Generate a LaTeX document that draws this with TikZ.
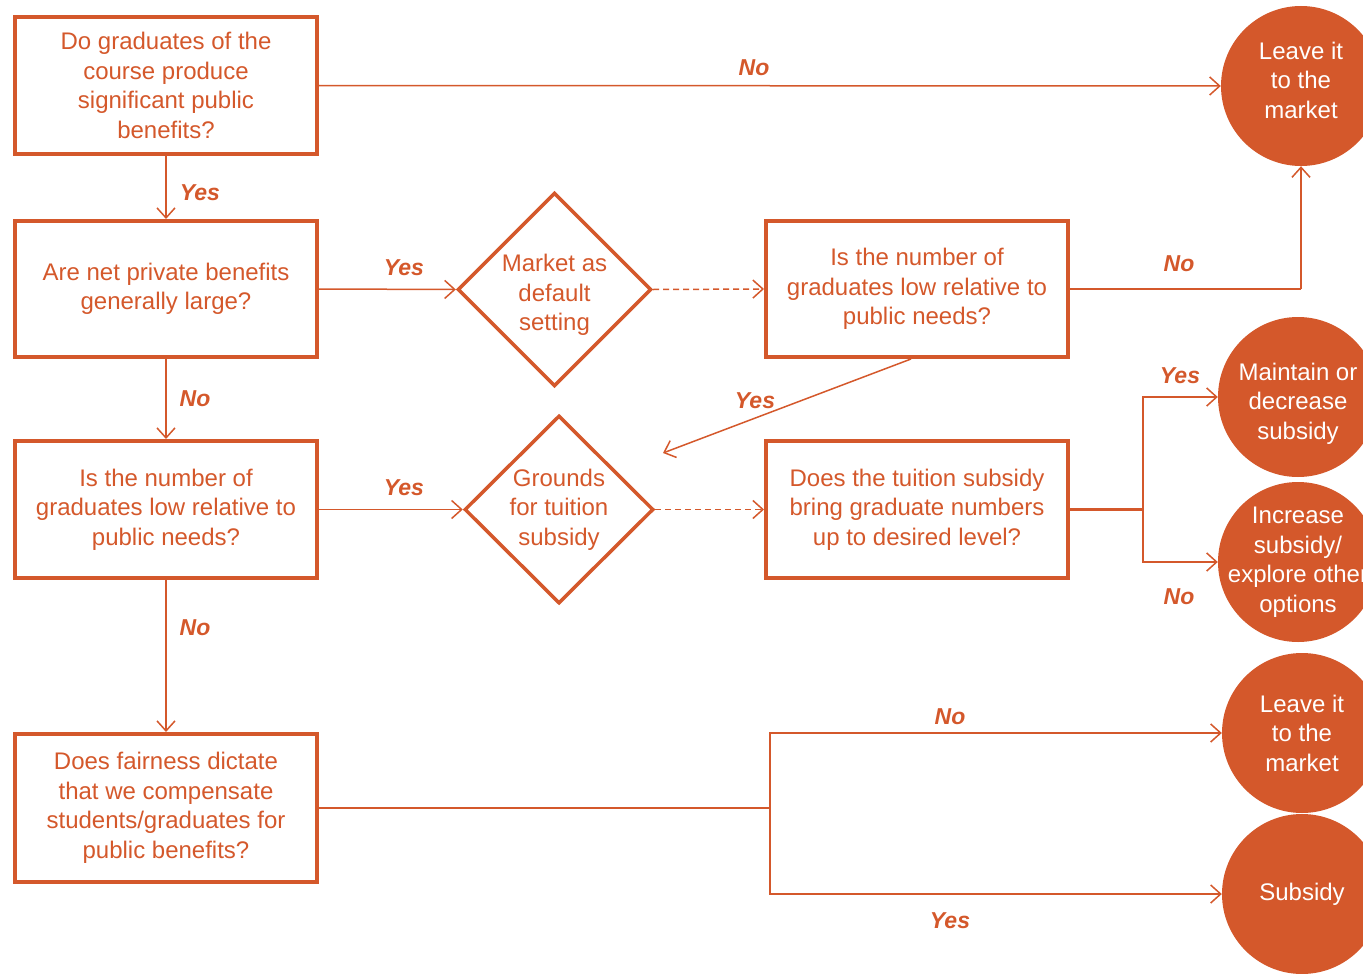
\documentclass[tikz,border=0pt]{standalone}
\usepackage{fontspec}
\setmainfont{Liberation Sans}
\usetikzlibrary{shapes.geometric,arrows.meta}
\definecolor{rust}{RGB}{212,88,43}
\newcommand{\mvtext}[2]{\raisebox{#1}[\height][\depth]{\begin{tabular}{@{}c@{}}#2\end{tabular}}}
\tikzset{
  qbox/.style={draw=rust, line width=4pt, rectangle, minimum width=302pt, inner sep=0pt,
    text=rust, align=center, font=\fontsize{24}{29.5}\selectfont},
  qdia/.style={draw=rust, line width=3.5pt, diamond, inner sep=0pt, aspect=1,
    text=rust, align=center, font=\fontsize{24}{29.5}\selectfont},
  endc/.style={circle, fill=rust, minimum size=160pt, inner sep=-20pt,
    text=white, align=center, font=\fontsize{24}{29.5}\selectfont},
  conn/.style={draw=rust, line width=1.5pt},
  arr/.style={conn, -{Straight Barb[length=10pt,width=18pt,line width=1.5pt]}},
  darr/.style={arr, dash pattern=on 6pt off 4pt},
  lbl/.style={text=rust, font=\fontsize{23}{27}\selectfont\bfseries\itshape}
}
\begin{document}
\begin{tikzpicture}[x=1pt,y=-1pt]
\useasboundingbox (0,0) rectangle (1363,974);
\clip (0,0) rectangle (1363,974);
% question boxes
\node[qbox, minimum height=137pt] (b1) at (166,85.5) {Do graduates of the\\course produce\\significant public\\benefits?};
\node[qbox, minimum height=136pt] (b2) at (166,289) {Are net private benefits\\generally large?};
\node[qbox, minimum height=137pt] (b3) at (166,509.5) {Is the number of\\graduates low relative to\\public needs?};
\node[qbox, minimum height=148pt] (b4) at (166,808) {Does fairness dictate\\that we compensate\\students/graduates for\\public benefits?};
\node[qbox, minimum height=136pt] (b5) at (917,289) {Is the number of\\graduates low relative to\\public needs?};
\node[qbox, minimum height=137pt] (b6) at (917,509.5) {Does the tuition subsidy\\bring graduate numbers\\up to desired level?};
% diamonds
\node[qdia, minimum width=192pt, minimum height=188pt] (d1) at (554.5,289.5) {\mvtext{-6pt}{Market as\\default\\setting}};
\node[qdia, minimum width=189pt, minimum height=188pt] (d2) at (559,509.5) {Grounds\\for tuition\\subsidy};
% end circles
\node[endc] (c1) at (1301,86) {\mvtext{3pt}{Leave it\\to the\\market}};
\node[endc] (c2) at (1298,397) {\mvtext{-7pt}{Maintain or\\decrease\\subsidy}};
\node[endc] (c3) at (1298,562) {Increase\\subsidy/\\explore other\\options};
\node[endc] (c4) at (1302,733) {Leave it\\to the\\market};
\node[endc] (c5) at (1302,894) {Subsidy};
% junction coordinates
\coordinate (j1) at (1143,509.5);
\coordinate (j2) at (770,808);
\coordinate (k1) at (1301,289);
\coordinate (f1) at (663,453);
% connectors
\draw[arr] (b1.east) -- (c1.west);
\draw[arr] (b1.south) -- (b2.north);
\draw[arr] (b2.east) -- (d1.west);
\draw[darr] (d1.east) -- (b5.west);
\draw[conn] (b5.east) -- (k1);
\draw[arr] (k1) -- (c1.south);
\draw[arr] ([xshift=-6pt]b5.south) -- (f1);
\draw[arr] (b2.south) -- (b3.north);
\draw[arr] (b3.east) -- (d2.west);
\draw[darr] (d2.east) -- (b6.west);
\draw[conn, line width=2.5pt] (b6.east) -- (j1);
\draw[arr] (j1) |- (c2.west);
\draw[arr] (j1) |- (c3.west);
\draw[arr] (b3.south) -- (b4.north);
\draw[conn, line width=2pt] (b4.east) -- (j2);
\draw[arr] (j2) |- (c4.west);
\draw[arr] (j2) |- (c5.west);
% labels
\node[lbl] (l1) at (754,68) {No};
\node[lbl] (l2) at (200,193) {Yes};
\node[lbl] (l3) at (404,268) {Yes};
\node[lbl] (l4) at (1179,264) {No};
\node[lbl] (l5) at (755,401) {Yes};
\node[lbl] (l6) at (195,399) {No};
\node[lbl] (l7) at (404,488) {Yes};
\node[lbl] (l8) at (1180,376) {Yes};
\node[lbl] (l9) at (1179,597) {No};
\node[lbl] (l10) at (195,628) {No};
\node[lbl] (l11) at (950,717) {No};
\node[lbl] (l12) at (950,921) {Yes};
\end{tikzpicture}
\end{document}
